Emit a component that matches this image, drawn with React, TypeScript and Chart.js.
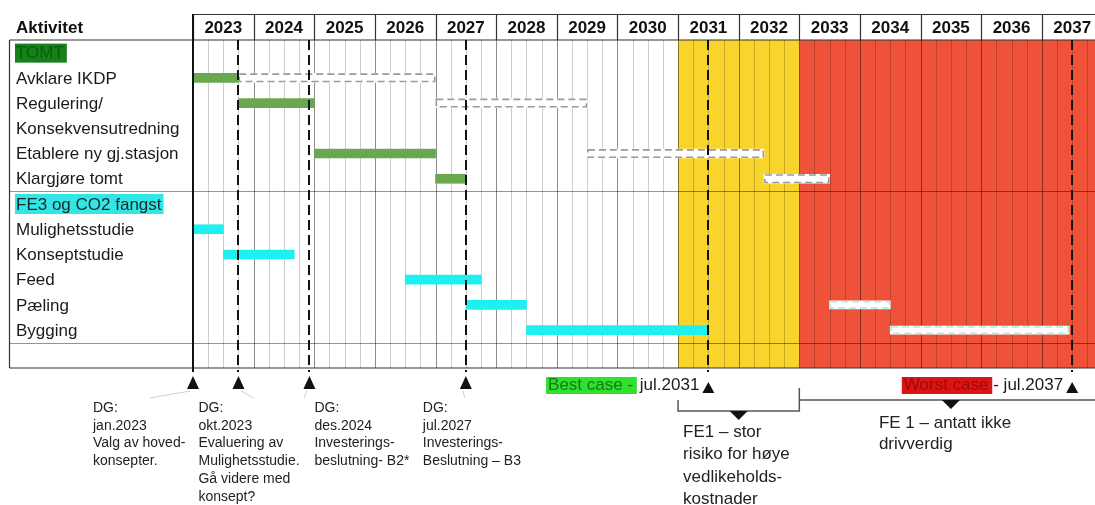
import React, { useEffect, useRef } from 'react';
import { Chart, registerables } from 'chart.js';
Chart.register(...registerables);

// ---------- data ----------
const years = [2023, 2024, 2025, 2026, 2027, 2028, 2029, 2030, 2031, 2032, 2033, 2034, 2035, 2036, 2037];
const xMin = 2023;
const xMax = 2037.86;

const rowLabels = [
  'TOMT',
  'Avklare IKDP',
  'Regulering/',
  'Konsekvensutredning',
  'Etablere ny gj.stasjon',
  'Klargjøre tomt',
  'FE3 og CO2 fangst',
  'Mulighetsstudie',
  'Konseptstudie',
  'Feed',
  'Pæling',
  'Bygging',
  '',
];

const tomtRows = ['Avklare IKDP', 'Regulering/', 'Etablere ny gj.stasjon', 'Klargjøre tomt'];
const tomtPlan: [number, number][] = [[2023, 2023.75], [2023.75, 2025], [2025, 2027], [2027, 2027.5]];
const tomtDelayed: [number, number][] = [[2023.75, 2027], [2027, 2029.5], [2029.5, 2032.42], [2032.42, 2033.5]];

const fe3Rows = ['Mulighetsstudie', 'Konseptstudie', 'Feed', 'Pæling', 'Bygging'];
const fe3Plan: [number, number][] = [[2023, 2023.5], [2023.5, 2024.67], [2026.5, 2027.75], [2027.5, 2028.5], [2028.5, 2031.5]];
const fe3DelayedRows = ['Pæling', 'Bygging'];
const fe3Delayed: [number, number][] = [[2033.5, 2034.5], [2034.5, 2037.45]];

const bestCaseZone: [number, number] = [2031, 2033];
const worstCaseZone: [number, number] = [2033, 2040];

const decisionGates = [2023, 2023.75, 2024.92, 2027.5];
const gateTexts = [
  ['DG:', 'jan.2023', 'Valg av hoved-', 'konsepter.'],
  ['DG:', 'okt.2023', 'Evaluering av', 'Mulighetsstudie.', 'Gå videre med', 'konsept?'],
  ['DG:', 'des.2024', 'Investerings-', 'beslutning- B2*'],
  ['DG:', 'jul.2027', 'Investerings-', 'Beslutning – B3'],
];
const dashedMilestones = [2023.75, 2024.92, 2027.5, 2031.5, 2037.5];
const bestCaseDate = 2031.5;
const worstCaseDate = 2037.5;
const bestCaseLabel = ['Best case - ', 'jul.2031'];
const worstCaseLabel = ['Worst case ', '- jul.2037'];
const fe1BestText = ['FE1 – stor', 'risiko for høye', 'vedlikeholds-', 'kostnader'];
const fe1WorstText = ['FE 1 – antatt ikke', 'drivverdig'];

// ---------- style ----------
const FONT = '"Liberation Sans", Arial, Helvetica, sans-serif';
const GREEN = '#6aa84f';
const CYAN = '#1ef0f0';
const YELLOW = '#f8d42c';
const RED = '#ee533a';

const ganttPlugin = {
  id: 'gantt',
  beforeDraw(chart: any) {
    const { ctx, chartArea: ca, scales } = chart;
    const x = scales.x;
    const y = scales.y;
    const W = chart.width;
    const headTop = ca.top - 26;
    ctx.save();
    ctx.fillStyle = '#fff';
    ctx.fillRect(0, 0, W, chart.height);

    // zones
    const zone = (r: [number, number], c: string) => {
      const a = Math.max(x.getPixelForValue(r[0]), ca.left);
      const b = Math.min(x.getPixelForValue(r[1]), W);
      ctx.fillStyle = c;
      ctx.fillRect(a, ca.top, b - a, ca.bottom - ca.top);
    };
    zone(bestCaseZone, YELLOW);
    zone(worstCaseZone, RED);

    // quarter grid lines
    for (let q = Math.round(xMin * 4) + 1; q / 4 <= xMax; q++) {
      const v = q / 4;
      const px = Math.round(x.getPixelForValue(v)) + 0.5;
      const isYear = q % 4 === 0;
      ctx.strokeStyle = isYear ? 'rgba(0,0,0,0.45)' : 'rgba(0,0,0,0.2)';
      ctx.lineWidth = 1;
      ctx.beginPath();
      ctx.moveTo(px, ca.top);
      ctx.lineTo(px, ca.bottom);
      ctx.stroke();
    }

    // horizontal separators
    const sepAfter = (label: string) => {
      const i = rowLabels.indexOf(label);
      return Math.round((y.getPixelForValue(i) + y.getPixelForValue(i + 1)) / 2) + 0.5;
    };
    ctx.strokeStyle = 'rgba(0,0,0,0.42)';
    [sepAfter('Klargjøre tomt'), sepAfter('Bygging')].forEach((py) => {
      ctx.beginPath();
      ctx.moveTo(9, py);
      ctx.lineTo(W, py);
      ctx.stroke();
    });

    // table borders
    ctx.strokeStyle = '#333';
    ctx.lineWidth = 1.2;
    ctx.beginPath();
    ctx.moveTo(9.5, ca.top);
    ctx.lineTo(W, ca.top);
    ctx.moveTo(9.5, ca.bottom);
    ctx.lineTo(W, ca.bottom);
    ctx.moveTo(9.5, ca.top);
    ctx.lineTo(9.5, ca.bottom);
    ctx.stroke();

    // header
    ctx.beginPath();
    ctx.moveTo(ca.left, headTop + 0.5);
    ctx.lineTo(W, headTop + 0.5);
    years.forEach((yr) => {
      const px = Math.round(x.getPixelForValue(yr)) + 0.5;
      ctx.moveTo(px, headTop);
      ctx.lineTo(px, ca.top);
    });
    ctx.stroke();

    ctx.fillStyle = '#111';
    ctx.font = `bold 17px ${FONT}`;
    ctx.textBaseline = 'middle';
    ctx.textAlign = 'center';
    years.forEach((yr) => {
      ctx.fillText(String(yr), x.getPixelForValue(yr + 0.5), (headTop + ca.top) / 2 + 1);
    });
    ctx.textAlign = 'left';
    ctx.fillText('Aktivitet', 16, (headTop + ca.top) / 2 + 1);

    // row labels
    ctx.font = `17px ${FONT}`;
    rowLabels.forEach((lab, i) => {
      if (!lab) return;
      const py = y.getPixelForValue(i);
      if (lab === 'TOMT') {
        const w = ctx.measureText(lab).width;
        ctx.fillStyle = '#16801a';
        ctx.fillRect(15, py - 9, w + 4, 19);
        ctx.fillStyle = '#0b5c0d';
      } else if (lab === 'FE3 og CO2 fangst') {
        const w = ctx.measureText(lab).width;
        ctx.fillStyle = '#33e6e6';
        ctx.fillRect(15, py - 10, w + 3, 20);
        ctx.fillStyle = '#1a2a2a';
      } else {
        ctx.fillStyle = '#1a1a1a';
      }
      ctx.fillText(lab, 16, py + 1);
    });
    ctx.restore();
  },
  afterDatasetsDraw(chart: any) {
    const { ctx, chartArea: ca, scales } = chart;
    const x = scales.x;
    ctx.save();
    // dashed outlines of delayed bars
    chart.data.datasets.forEach((ds: any, di: number) => {
      if (!ds.dashColor) return;
      const meta = chart.getDatasetMeta(di);
      meta.data.forEach((el: any) => {
        const p = el.getProps(['x', 'y', 'base', 'height'], true);
        const l = Math.min(p.x, p.base);
        const r = Math.max(p.x, p.base);
        ctx.setLineDash([7, 4]);
        ctx.strokeStyle = ds.dashColor;
        ctx.lineWidth = 1.6;
        ctx.strokeRect(l + 0.8, p.y - p.height / 2 + 0.8, r - l - 1.6, p.height - 1.6);
      });
    });
    ctx.setLineDash([]);

    // milestone dashed verticals
    ctx.strokeStyle = '#111';
    ctx.lineWidth = 2;
    ctx.setLineDash([10, 5]);
    dashedMilestones.forEach((v) => {
      const px = Math.round(x.getPixelForValue(v));
      ctx.beginPath();
      ctx.moveTo(px, ca.top);
      ctx.lineTo(px, ca.bottom + 4);
      ctx.stroke();
    });
    ctx.setLineDash([]);

    // left border of the timeline
    ctx.strokeStyle = '#111';
    ctx.lineWidth = 2;
    ctx.beginPath();
    ctx.moveTo(ca.left, ca.top - 26);
    ctx.lineTo(ca.left, ca.bottom + 4);
    ctx.stroke();
    ctx.restore();
  },
  afterDraw(chart: any) {
    const { ctx, chartArea: ca, scales } = chart;
    const x = scales.x;
    const W = chart.width;
    ctx.save();
    const upTri = (cx: number, top: number, h: number, hw: number) => {
      ctx.beginPath();
      ctx.moveTo(cx, top);
      ctx.lineTo(cx + hw, top + h);
      ctx.lineTo(cx - hw, top + h);
      ctx.closePath();
      ctx.fill();
    };
    const downTri = (cx: number, top: number, h: number, hw: number) => {
      ctx.beginPath();
      ctx.moveTo(cx - hw, top);
      ctx.lineTo(cx + hw, top);
      ctx.lineTo(cx, top + h);
      ctx.closePath();
      ctx.fill();
    };

    // decision gates
    const offsets = [-100, -40, 5, -43];
    const connectors = [[-43, 8], [1, 14], [-5, 50], [-1, 10]];
    decisionGates.forEach((g, i) => {
      const px = x.getPixelForValue(g);
      ctx.strokeStyle = '#cfcfcf';
      ctx.lineWidth = 1;
      ctx.beginPath();
      const c = connectors[i];
      ctx.moveTo(px + (c[0] < 0 ? -3 : 3), ca.bottom + 23);
      ctx.lineTo(px + c[0] + (c[0] < 0 ? 0 : c[1]), ca.bottom + 30);
      ctx.stroke();
      ctx.fillStyle = '#111';
      upTri(px, ca.bottom + 8, 13, 6);
      ctx.fillStyle = '#222';
      ctx.font = `14px ${FONT}`;
      ctx.textBaseline = 'middle';
      ctx.textAlign = 'left';
      gateTexts[i].forEach((t, k) => ctx.fillText(t, px + offsets[i], ca.bottom + 40 + k * 17.8));
    });

    ctx.font = `17px ${FONT}`;
    ctx.textBaseline = 'middle';
    const labelY = ca.bottom + 17;

    // best case
    const bpx = x.getPixelForValue(bestCaseDate);
    ctx.fillStyle = '#111';
    upTri(bpx, ca.bottom + 14, 11, 6);
    const jW = ctx.measureText(bestCaseLabel[1]).width;
    const jStart = bpx - 9 - jW;
    ctx.fillStyle = '#1a1a1a';
    ctx.fillText(bestCaseLabel[1], jStart, labelY);
    const bW = ctx.measureText(bestCaseLabel[0]).width;
    ctx.fillStyle = '#2fe02f';
    ctx.fillRect(jStart - bW - 4, ca.bottom + 9, bW + 1, 17);
    ctx.fillStyle = '#157a15';
    ctx.fillText(bestCaseLabel[0], jStart - bW - 2, labelY);

    // worst case
    const wpx = x.getPixelForValue(worstCaseDate);
    ctx.fillStyle = '#111';
    upTri(wpx, ca.bottom + 14, 11, 6);
    const dW = ctx.measureText(worstCaseLabel[1]).width;
    const dStart = wpx - 9 - dW;
    ctx.fillStyle = '#1a1a1a';
    ctx.fillText(worstCaseLabel[1], dStart, labelY);
    const wW = ctx.measureText(worstCaseLabel[0]).width;
    ctx.fillStyle = '#dd1414';
    ctx.fillRect(dStart - wW - 2, ca.bottom + 9, wW + 1, 17);
    ctx.fillStyle = '#9a0c0c';
    ctx.fillText(worstCaseLabel[0], dStart - wW, labelY);

    // brackets
    const b1 = x.getPixelForValue(bestCaseZone[0]);
    const b2 = x.getPixelForValue(bestCaseZone[1]);
    ctx.strokeStyle = '#555';
    ctx.lineWidth = 1.5;
    ctx.beginPath();
    ctx.moveTo(b1, ca.bottom + 32);
    ctx.lineTo(b1, ca.bottom + 43);
    ctx.lineTo(b2, ca.bottom + 43);
    ctx.lineTo(b2, ca.bottom + 20);
    ctx.moveTo(b2, ca.bottom + 32);
    ctx.lineTo(W, ca.bottom + 32);
    ctx.stroke();
    ctx.fillStyle = '#111';
    downTri((b1 + b2) / 2, ca.bottom + 43, 9, 9);
    const w1 = x.getPixelForValue(worstCaseZone[0]);
    const w2 = x.getPixelForValue(xMax + 0.14);
    downTri((w1 + w2) / 2, ca.bottom + 32, 9, 9);

    ctx.fillStyle = '#222';
    ctx.textAlign = 'left';
    fe1BestText.forEach((t, k) => ctx.fillText(t, b1 + 5, ca.bottom + 64 + k * 22.5));
    fe1WorstText.forEach((t, k) => ctx.fillText(t, (w1 + w2) / 2 - 72, ca.bottom + 55 + k * 21.5));
    ctx.restore();
  },
};

export default function App() {
  const ref = useRef<HTMLCanvasElement | null>(null);
  useEffect(() => {
    if (!ref.current) return;
    const chart = new Chart(ref.current, {
      type: 'bar',
      data: {
        labels: rowLabels,
        datasets: [
          {
            label: 'TOMT',
            data: tomtRows.map((r, i) => ({ x: tomtPlan[i], y: r })) as any,
            backgroundColor: GREEN,
            borderWidth: 0,
            barThickness: 9,
            grouped: false,
          } as any,
          {
            label: 'TOMT forsinket',
            data: tomtDelayed.map((v, i) => ({ x: v, y: tomtRows[i] })) as any,
            backgroundColor: '#ffffff',
            borderWidth: 0,
            barThickness: 9,
            grouped: false,
            dashColor: '#9a9a9a',
          } as any,
          {
            label: 'FE3 og CO2 fangst',
            data: fe3Rows.map((r, i) => ({ x: fe3Plan[i], y: r })) as any,
            backgroundColor: CYAN,
            borderWidth: 0,
            barThickness: 9,
            grouped: false,
          } as any,
          {
            label: 'FE3 forsinket',
            data: fe3Delayed.map((v, i) => ({ x: v, y: fe3DelayedRows[i] })) as any,
            backgroundColor: '#ffffff',
            borderWidth: 0,
            barThickness: 8,
            grouped: false,
            dashColor: '#a8eeee',
          } as any,
        ],
      },
      options: {
        indexAxis: 'y',
        responsive: false,
        animation: false,
        devicePixelRatio: 1,
        layout: { padding: { left: 193, top: 40, right: 1, bottom: 137 } },
        scales: {
          x: { type: 'linear', min: xMin, max: xMax, display: false },
          y: { type: 'category', display: false, offset: true },
        },
        plugins: { legend: { display: false }, tooltip: { enabled: false } },
      } as any,
      plugins: [ganttPlugin],
    });
    return () => chart.destroy();
  }, []);
  return (
    <div style={{ position: 'absolute', left: 0, top: 0, width: 1095, height: 505, background: '#fff' }}>
      <canvas ref={ref} width={1095} height={505} style={{ display: 'block' }} />
    </div>
  );
}
